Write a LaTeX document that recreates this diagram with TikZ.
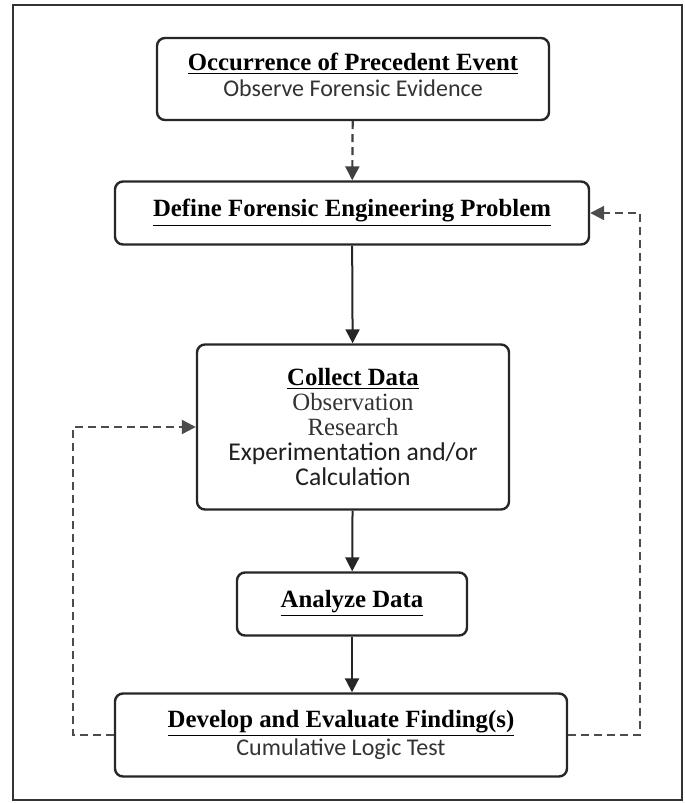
\documentclass[tikz,border=0pt]{standalone}
\usepackage{fontspec}
\setmainfont{Liberation Serif}
\newfontfamily\stepsans{Carlito}
\usepackage{xcolor}
\usetikzlibrary{arrows.meta, positioning}

\newcommand{\steptitle}[1]{\textbf{\underline{#1}}}
\newcommand{\stepline}[1]{{\stepsans\fontsize{12}{13}\selectfont\textcolor{black!80}{#1}}}

\begin{document}
\begin{tikzpicture}[x=0.5pt, y=-0.5pt,
    stepbox/.style={draw=black!85, line width=1.2pt, rounded corners=4pt, align=center, fill=white, font=\fontsize{12.4}{13}\selectfont},
    flow/.style={-{Triangle[length=7pt, width=7pt]}, line width=1pt, black!85},
    loopback/.style={flow, dash pattern=on 4pt off 2.5pt, line width=1.1pt, black!70}]
    % Page and frame
    \useasboundingbox (0,0) rectangle (685,803);
    \draw[line width=1.2pt, black!80] (13,5) rectangle (682,800);

    % Steps
    \node[stepbox, minimum width=196pt, minimum height=41pt, text depth=4pt] (occur) at (353,79)
        {\steptitle{Occurrence of Precedent Event}\\ \stepline{Observe Forensic Evidence}};
    \node[stepbox, minimum width=237pt, minimum height=31.5pt, text depth=5pt] (define) at (352,213)
        {\steptitle{Define Forensic Engineering Problem}};
    \node[stepbox, minimum width=156pt, minimum height=82.5pt, font=\fontsize{12.4}{12.6}\selectfont] (collect) at (353,427)
        {\steptitle{Collect Data}\\ \textcolor{black!80}{Observation}\\ \textcolor{black!80}{Research}\\
         {\stepsans\fontsize{12.8}{12.6}\selectfont\textcolor{black!88}{Experimentation and/or}}\\
         {\stepsans\fontsize{12.8}{12.6}\selectfont\textcolor{black!88}{Calculation}}};
    \node[stepbox, minimum width=115pt, minimum height=31.5pt, text depth=5pt] (analyze) at (352,604)
        {\steptitle{Analyze Data}};
    \node[stepbox, minimum width=226pt, minimum height=41.5pt] (develop) at (341,735)
        {\steptitle{Develop and Evaluate Finding(s)}\\ \stepline{Cumulative Logic Test}};

    % Main flow
    \draw[loopback, black!75] (occur) -- (define);
    \draw[flow] (define) -- (collect);
    \draw[flow] (collect) -- (analyze);
    \draw[flow] (analyze.south) -- (analyze.south |- develop.north);

    % Feedback loops
    \coordinate (leftturn) at (73,427);
    \coordinate (rightturn) at (640,213);
    \draw[loopback] (develop.west) -| (leftturn) -- (collect.west);
    \draw[loopback] (develop.east) -| (rightturn) -- (define.east);
\end{tikzpicture}
\end{document}
